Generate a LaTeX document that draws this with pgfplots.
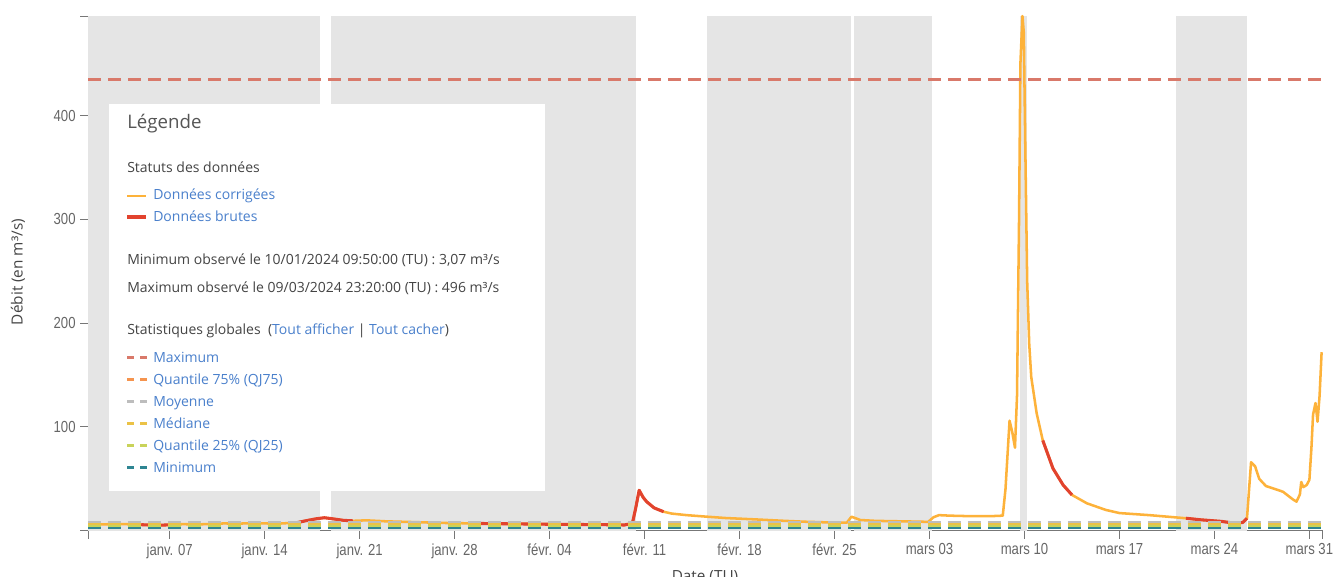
\documentclass[border=0pt]{standalone}
\usepackage{pgfplots}
\pgfplotsset{compat=1.18}
\usepackage{fontspec}
\setmainfont{Open Sans}
\newfontfamily\narrow[FakeStretch=0.82]{Liberation Sans}
\definecolor{band}{HTML}{E5E5E5}
\definecolor{corr}{HTML}{FDB23A}
\definecolor{brut}{HTML}{E2432E}
\definecolor{smax}{HTML}{D9796A}
\definecolor{sq75}{HTML}{F5944E}
\definecolor{smoy}{HTML}{BDBDBD}
\definecolor{smed}{HTML}{EBC246}
\definecolor{sq25}{HTML}{C9D35A}
\definecolor{smin}{HTML}{2E8592}
\definecolor{link}{HTML}{4A80CC}
\definecolor{axisgrey}{HTML}{777777}
\definecolor{ticktext}{HTML}{666666}
\definecolor{dark}{HTML}{444444}
\definecolor{title}{HTML}{555555}
\begin{document}
\begin{tikzpicture}[x=0.75pt,y=0.75pt]
\useasboundingbox (0,0) rectangle (1336,576);
\begin{axis}[
  at={(66.225pt,33.975pt)}, anchor=south west,
  scale only axis, width=926.0pt, height=386.0pt,
  xmin=0, xmax=91, ymin=0, ymax=496,
  axis x line*=bottom, axis y line*=left,
  axis line style={axisgrey, line width=0.9pt, -},
  tick align=outside, major tick length=6pt,
  tick style={axisgrey, line width=0.75pt},
  xtick={0,6,13,20,27,34,41,48,55,62,69,76,83,90,91},
  xticklabels={,janv. 07,janv. 14,janv. 21,janv. 28,févr. 04,févr. 11,févr. 18,févr. 25,mars 03,mars 10,mars 17,mars 24,mars 31,},
  ytick={0,100,200,300,400,496},
  yticklabels={,100,200,300,400,},
  xticklabel style={font=\narrow\fontsize{12}{12}\selectfont, text=ticktext},
  yticklabel style={font=\narrow\fontsize{12}{12}\selectfont, text=ticktext},
  clip=false,
]
% shaded periods
\addplot[fill=band, draw=none] coordinates {(0,496) (17.07,496)} \closedcycle;
\addplot[fill=band, draw=none] coordinates {(17.88,496) (40.36,496)} \closedcycle;
\addplot[fill=band, draw=none] coordinates {(45.6,496) (56.2,496)} \closedcycle;
\addplot[fill=band, draw=none] coordinates {(56.45,496) (62.15,496)} \closedcycle;
\addplot[fill=band, draw=none] coordinates {(68.66,496) (69.15,496)} \closedcycle;
\addplot[fill=band, draw=none] coordinates {(80.15,496) (85.4,496)} \closedcycle;
% donnees corrigees (whole series)
\addplot[corr, line width=1.9pt, line join=round] coordinates {
(0,6.2) (1,6.0) (2,6.5) (3,6.2) (3.9,5.8) (5,5.2) (5.9,5.6) (7,6.3) (8,6.0)
(9,6.5) (10,7.0) (11,6.8) (12,7.2) (13,7.0) (14,6.8) (15.4,7.8) (16,9.5)
(16.8,11.5) (17.4,12.5) (18,11.5) (18.8,10) (19.5,9.5) (20.5,10) (22,9)
(24,8.3) (26,7.5) (28.5,7) (30,6.8) (32,6.5) (34,6.2) (36,6) (38,5.8)
(39.5,5.5) (40.1,7) (40.35,22) (40.6,39) (40.9,32) (41.15,28) (41.7,22)
(42.4,18.3) (43,16.5) (44.1,15) (45.6,13.5) (47,12.2) (49,11) (51,9.7)
(52.7,8.7) (54.5,8.0) (55.9,7.7) (56.25,13.5) (56.9,10.3) (58,9.5) (60,9)
(61.3,8.7) (61.9,8.5) (62.3,13) (62.7,15) (63.5,14.5) (65,14) (66.5,14)
(67.4,14.5) (67.6,40) (67.9,106) (68.1,95) (68.3,80) (68.45,130) (68.6,300)
(68.7,450) (68.85,496) (68.95,480) (69.05,380) (69.2,240) (69.35,180)
(69.5,148) (69.9,113) (70.35,87) (71.1,60) (71.85,44) (72.5,34.5)
(73.6,26.4) (75,20) (76,17) (78.2,15) (80,13) (80.9,12) (82,10.5) (83.5,9)
(84.6,7) (85.1,8) (85.4,12) (85.7,66) (86,62) (86.3,50) (86.8,43) (87.5,40)
(88.06,37.5) (88.5,33) (88.8,30) (89.05,28) (89.3,35) (89.4,47) (89.55,42)
(89.8,44) (90.0,49) (90.15,80) (90.27,112) (90.45,123) (90.6,105)
(90.75,130) (90.9,172)
};
% donnees brutes
\addplot[brut, line width=2.3pt, line join=round] coordinates {
(3.9,5.8) (5,5.2) (5.9,5.6)};
\addplot[brut, line width=2.3pt, line join=round] coordinates {
(15.4,7.8) (16,9.5) (16.8,11.5) (17.4,12.5) (18,11.5) (18.8,10) (19.5,9.5)};
\addplot[brut, line width=2.3pt, line join=round] coordinates {
(28.5,7) (30,6.8) (32,6.5) (34,6.2) (36,6) (38,5.8) (39.5,5.5) (40.1,7)
(40.35,22) (40.6,39) (40.9,32) (41.15,28) (41.7,22) (42.4,18.3)};
\addplot[brut, line width=2.3pt, line join=round] coordinates {
(70.35,87) (71.1,60) (71.85,44) (72.5,34.5)};
\addplot[brut, line width=2.3pt, line join=round] coordinates {
(80.9,12) (82,10.5) (83.5,9) (84.6,7) (85.1,8) (85.4,12)};
% statistiques globales
\addplot[smax, line width=2.6pt, dash pattern=on 9.75pt off 5.25pt] coordinates {(0,435) (91,435)};
\addplot[sq75, line width=2.2pt, dash pattern=on 9.75pt off 5.25pt] coordinates {(0,7.5) (91,7.5)};
\addplot[smoy, line width=2.2pt, dash pattern=on 9.75pt off 5.25pt] coordinates {(0,8.3) (91,8.3)};
\addplot[smed, line width=2.2pt, dash pattern=on 9.75pt off 5.25pt] coordinates {(0,5.8) (91,5.8)};
\addplot[sq25, line width=2.2pt, dash pattern=on 9.75pt off 5.25pt] coordinates {(0,4.4) (91,4.4)};
\addplot[smin, line width=2.2pt, dash pattern=on 9.75pt off 5.25pt] coordinates {(0,2.6) (91,2.6)};
\end{axis}
% axis titles
\node[rotate=90, font=\fontsize{11.5}{11.5}\selectfont, text=dark] at (18,304) {Débit (en m³/s)};
\node[anchor=base, font=\fontsize{11.5}{11.5}\selectfont, text=dark] at (705,-5) {Date (TU)};
% legend box
\fill[white] (109,85) rectangle (545,472);
\begin{scope}[every node/.style={anchor=base west, inner sep=0pt, font=\fontsize{10.5}{10.5}\selectfont}]
\node[font=\fontsize{14}{14}\selectfont, text=title] at (127,447) {Légende};
\node[text=dark] at (127,403) {Statuts des données};
\draw[corr, line width=1.5pt] (127,380) -- (146,380);
\node[text=link] at (153,376) {Données corrigées};
\draw[brut, line width=2.6pt] (127,359) -- (146,359);
\node[text=link] at (153,354) {Données brutes};
\node[text=dark] at (127,311) {Minimum observé le 10/01/2024 09:50:00 (TU) : 3,07 m³/s};
\node[text=dark] at (127,284) {Maximum observé le 09/03/2024 23:20:00 (TU) : 496 m³/s};
\node[text=dark] at (127,242) {Statistiques globales\ \ (\textcolor{link}{Tout afficher} | \textcolor{link}{Tout cacher})};
\foreach \c/\yy/\t in {smax/213.5/Maximum, sq75/191.5/Quantile 75\% (QJ75), smoy/169.5/Moyenne, smed/147.5/Médiane, sq25/125.5/Quantile 25\% (QJ25), smin/103.5/Minimum}{
  \draw[\c, line width=1.9pt] (127,\yy+5) -- (134,\yy+5);
  \draw[\c, line width=1.9pt] (140,\yy+5) -- (147,\yy+5);
  \node[text=link] at (153,\yy) {\t};
}
\end{scope}
\end{tikzpicture}
\end{document}
